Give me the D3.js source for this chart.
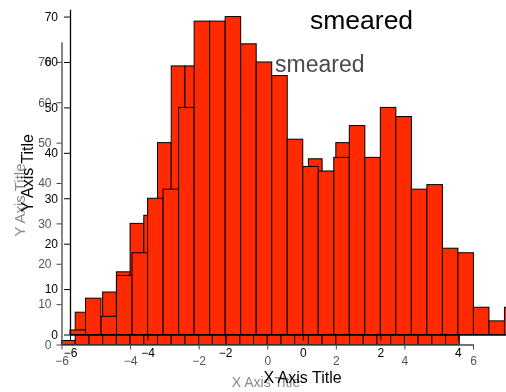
<!DOCTYPE html>
<html>
<head>
<meta charset="utf-8">
<script src="https://cdn.jsdelivr.net/npm/d3@7/dist/d3.min.js"></script>
<style>
  html, body { margin: 0; padding: 0; background: #fff; }
  svg { display: block; }
  text { font-family: "Liberation Sans", Arial, sans-serif; }
</style>
</head>
<body>
<svg id="chart" width="506" height="392"></svg>
<script>
// ---- data ----
const binStart = -6;
const binWidth = 0.4;
const counts = [1, 8, 4, 13, 18, 30, 32, 50, 69, 69, 70, 64, 60, 57, 43,
                37, 36, 39, 46, 39, 50, 48, 32, 33, 19, 18, 6, 3, 6, 0];
const xTickValues = [-6, -4, -2, 0, 2, 4, 6];
const xMinorTicks = [-5, -3, -1, 1, 3, 5];
const yTickValues = [0, 10, 20, 30, 40, 50, 60, 70];
const yMinorTicks = [5, 15, 25, 35, 45, 55, 65, 75];
const chartTitle = "smeared";
const xTitle = "X Axis Title";
const yTitle = "Y Axis Title";

const bins = counts.map((c, i) => ({ x0: binStart + i * binWidth, x1: binStart + (i + 1) * binWidth, c }));

const W = 506;
const svg = d3.select("#chart");
const defs = svg.append("defs");
defs.append("filter").attr("id", "smear")
  .attr("x", "-5%").attr("y", "-5%").attr("width", "110%").attr("height", "110%")
  .append("feGaussianBlur").attr("stdDeviation", 0.55);

// two copies of the same chart: a smaller blurred one underneath, a crisp one on top
const layers = [
  { xr: [61.5, 473], yr: [344.5, 41.7], yMax: 75, tick: 12, ink: "#444", label: "#555", blur: true,
    tl: 5, tlm: 3, ypad: 5, xpad: 7,
    title: { x: 275, y: 72, size: 23, fill: "#4a4a4a" },
    xt: { x: 266, y: 387, size: 14, fill: "#8a8a8a" }, yt: { x: 25, y: 200, size: 15, fill: "#8a8a8a" } },
  { xr: [70, 535.5], yr: [334.5, 9.3], yMax: 71.6, tick: 12, ink: "#000", label: "#000", blur: false,
    tl: 6, tlm: 3, ypad: 6, xpad: 7.5,
    title: { x: 310, y: 29, size: 26.5, fill: "#000" },
    xt: { x: 302.5, y: 383, size: 16, fill: "#000" }, yt: { x: 33, y: 173, size: 16, fill: "#000" } }
];

layers.forEach(L => {
  const g = svg.append("g");
  if (L.blur) g.attr("filter", "url(#smear)");
  const x = d3.scaleLinear().domain([-6, 6]).range(L.xr);
  const y = d3.scaleLinear().domain([0, L.yMax]).range(L.yr);
  const inView = v => x(v) <= W - 4;

  g.append("g").selectAll("rect").data(bins.filter(d => d.c > 0)).join("rect")
    .attr("x", d => x(d.x0))
    .attr("width", d => x(d.x1) - x(d.x0))
    .attr("y", d => y(d.c))
    .attr("height", d => y(0) - y(d.c))
    .attr("fill", "#ff2a00")
    .attr("stroke", "#000")
    .attr("stroke-width", 1);

  // x axis
  const gx = g.append("g").attr("transform", `translate(0,${L.yr[0]})`);
  gx.call(d3.axisBottom(x).tickValues(xMinorTicks.filter(inView)).tickSize(L.tlm).tickSizeOuter(0).tickFormat(""));
  gx.call(d3.axisBottom(x).tickValues(xTickValues.filter(inView)).tickSize(L.tl).tickSizeOuter(0).tickPadding(L.xpad)
    .tickFormat(d3.format("d")));
  // y axis
  const gy = g.append("g").attr("transform", `translate(${L.xr[0]},0)`);
  gy.call(d3.axisLeft(y).tickValues(yMinorTicks.filter(v => v <= L.yMax)).tickSize(L.tlm).tickSizeOuter(0).tickFormat(""));
  gy.call(d3.axisLeft(y).tickValues(yTickValues).tickSize(L.tl).tickSizeOuter(0).tickPadding(L.ypad)
    .tickFormat(d3.format("d")));

  [gx, gy].forEach(a => {
    a.selectAll(".domain").attr("stroke", L.ink).attr("stroke-width", 1.3);
    a.selectAll(".tick line").attr("stroke", L.ink).attr("stroke-width", 1);
    a.selectAll(".tick text").attr("fill", L.label).attr("font-size", L.tick)
      .attr("font-family", "Liberation Sans, Arial, sans-serif");
  });

  g.append("text").attr("x", L.title.x).attr("y", L.title.y)
    .attr("font-size", L.title.size).attr("fill", L.title.fill).text(chartTitle);
  g.append("text").attr("x", L.xt.x).attr("y", L.xt.y).attr("text-anchor", "middle")
    .attr("font-size", L.xt.size).attr("fill", L.xt.fill).text(xTitle);
  g.append("text").attr("transform", `translate(${L.yt.x},${L.yt.y}) rotate(-90)`)
    .attr("text-anchor", "middle").attr("font-size", L.yt.size).attr("fill", L.yt.fill).text(yTitle);
});
</script>
</body>
</html>
